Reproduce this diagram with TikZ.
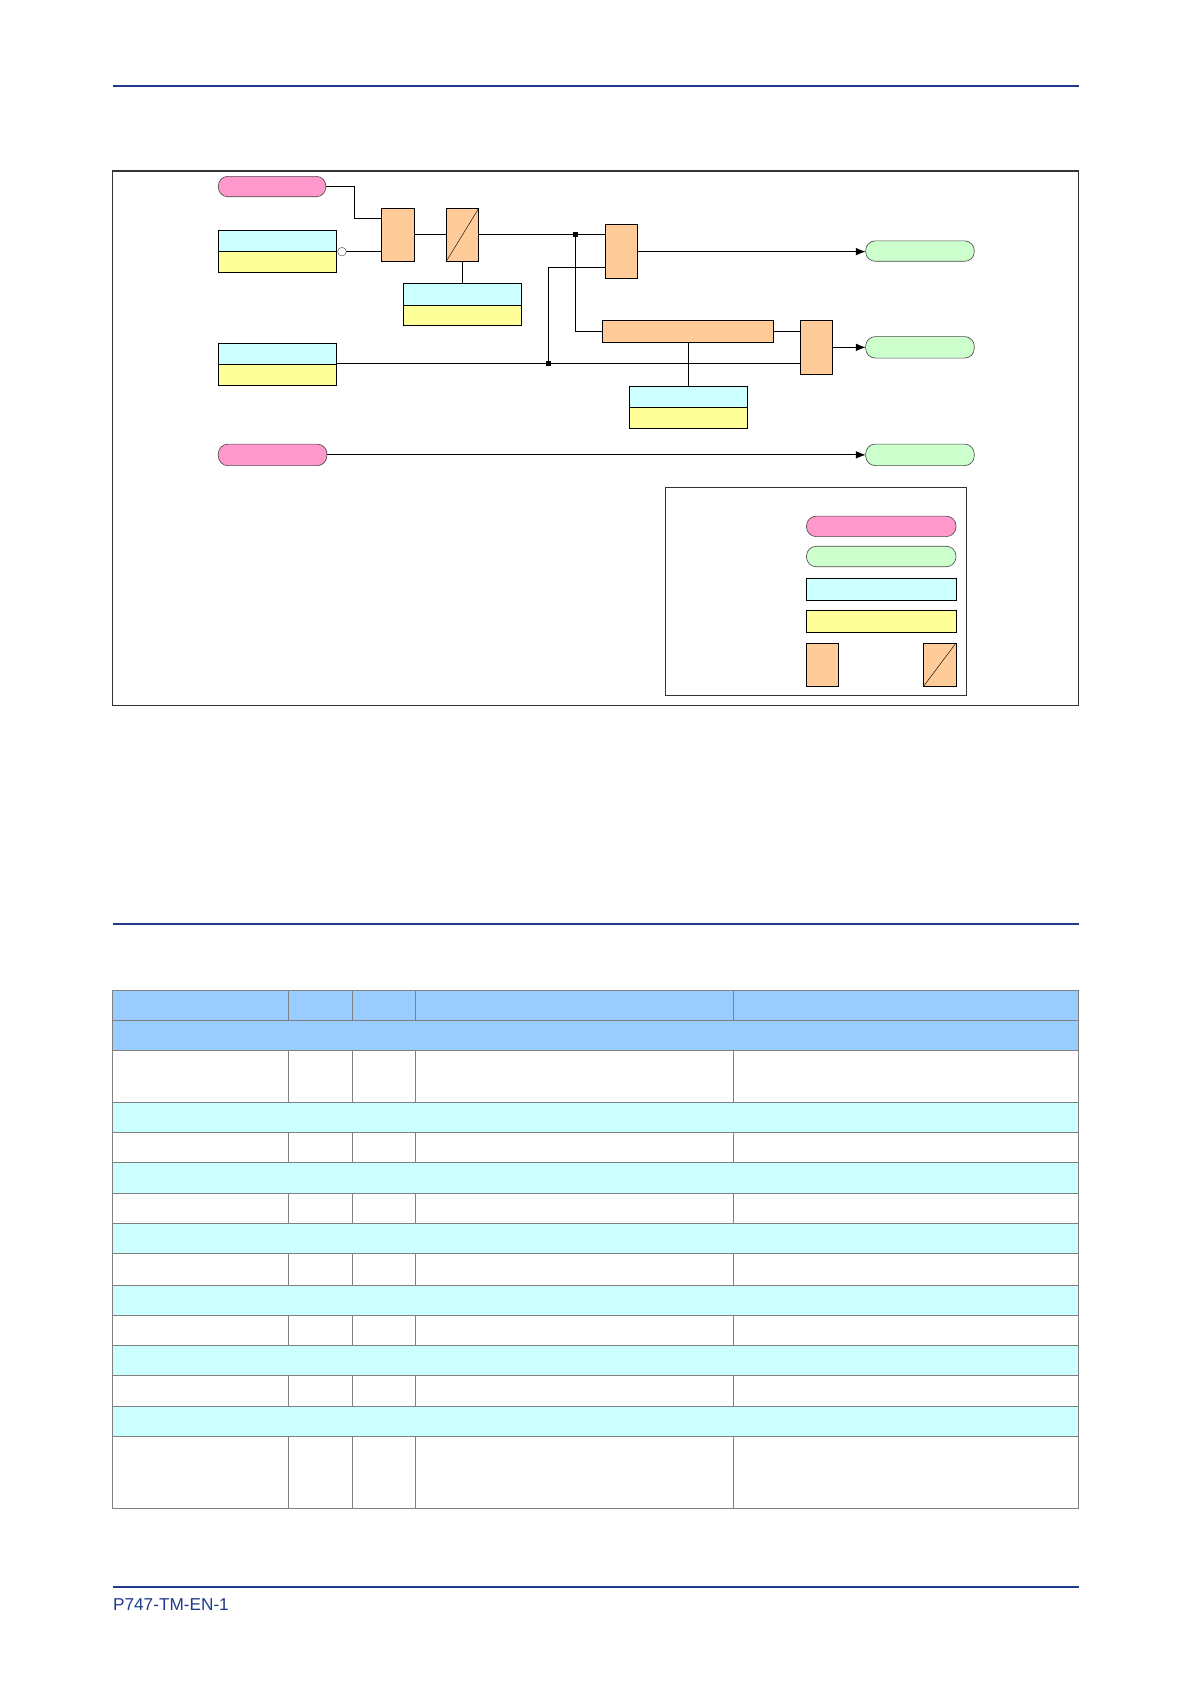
\documentclass[tikz,border=0pt]{standalone}
\usepackage{fontspec}
\setmainfont{Liberation Sans}
\usetikzlibrary{arrows.meta}
\definecolor{pinkc}{HTML}{FF99CC}
\definecolor{greenc}{HTML}{CCFFCC}
\definecolor{cyanc}{HTML}{CCFFFF}
\definecolor{yellowc}{HTML}{FFFF99}
\definecolor{orangec}{HTML}{FFCC99}
\definecolor{headc}{HTML}{99CCFF}
\definecolor{rulec}{HTML}{1F3A8A}
\definecolor{gridc}{HTML}{808080}
\begin{document}
\begin{tikzpicture}[x=1pt,y=-1pt,
  wire/.style={line width=0.8pt},
  arr/.style={wire,-{Latex[length=9pt,width=7pt]}},
  pill/.style={draw=black!70,rounded corners=9pt,line width=0.6pt},
  pillgreen/.style={pill,fill=greenc},
  pillpink/.style={pill,fill=pinkc},
  cbox/.style={draw,fill=cyanc,line width=0.8pt},
  ybox/.style={draw,fill=yellowc,line width=0.8pt},
  obox/.style={draw,fill=orangec,line width=0.8pt},
  hrule/.style={draw=rulec,line width=1.6pt},
  grid/.style={draw=gridc,line width=0.8pt}]
\useasboundingbox (0,0) rectangle (1108,1566);
\draw[hrule] (105,80) -- (1003,80);
\draw[draw=black!80,line width=1pt] (105,159) rectangle (1003,656);
% inputs
\draw[pillpink] (203,164) rectangle (303,183);
\draw[cbox] (203,214) rectangle (313,234); \draw[ybox] (203,234) rectangle (313,253);
\draw[cbox] (375,264) rectangle (485,284); \draw[ybox] (375,284) rectangle (485,303);
\draw[cbox] (203,319) rectangle (313,339); \draw[ybox] (203,339) rectangle (313,358);
\draw[cbox] (585,359) rectangle (695,379); \draw[ybox] (585,379) rectangle (695,398);
\draw[pillpink] (203,413) rectangle (304,433);
% gates
\draw[obox] (355,194) rectangle (385,243);
\draw[obox] (415,194) rectangle (445,243); \draw (415,243) -- (445,194);
\draw[obox] (563,209) rectangle (593,259);
\draw[obox] (560,298) rectangle (719,318);
\draw[obox] (744,298) rectangle (774,348);
% outputs
\draw[pillgreen] (805,224) rectangle (906,243);
\draw[pillgreen] (805,313) rectangle (906,333);
\draw[pillgreen] (805,413) rectangle (906,433);
% wires
\draw[wire] (303,173) -- (330,173) -- (330,203) -- (355,203);
\draw[black!60,fill=white,line width=0.5pt] (318,234) circle (4);
\draw[wire] (322,234) -- (355,234);
\draw[wire] (385,218) -- (415,218);
\draw[wire] (430,243) -- (430,264);
\draw[wire] (445,218) -- (563,218);
\draw[wire] (535,218) -- (535,308) -- (560,308);
\draw[wire] (563,249) -- (510,249) -- (510,338);
\draw[wire] (313,338) -- (744,338);
\draw[wire] (719,308) -- (744,308);
\draw[wire] (640,318) -- (640,359);
\fill (535,218) +(-2.5,-2.5) rectangle +(2.5,2.5);
\fill (510,338) +(-2.5,-2.5) rectangle +(2.5,2.5);
\draw[arr] (593,234) -- (805,234);
\draw[arr] (774,323) -- (805,323);
\draw[arr] (304,423) -- (805,423);
% legend
\draw[draw=black!80,line width=0.8pt] (619,453) rectangle (899,647);
\draw[pillpink] (750,480) rectangle (889,499);
\draw[pillgreen] (750,508) rectangle (889,527);
\draw[cbox] (750,538) rectangle (889,558);
\draw[ybox] (750,568) rectangle (889,588);
\draw[obox] (750,598) rectangle (780,638);
\draw[obox] (859,598) rectangle (889,638); \draw (859,638) -- (889,598);
% second rule
\draw[hrule] (105,859) -- (1003,859);
% table
\fill[headc] (105,921) rectangle (1003,977);
\foreach \a/\b in {1025/1053,1081/1110,1138/1166,1195/1223,1251/1279,1308/1336}
  \fill[cyanc] (105,\a) rectangle (1003,\b);
\foreach \yy in {921,949,977,1025,1053,1081,1110,1138,1166,1195,1223,1251,1279,1308,1336,1403}
  \draw[grid] (105,\yy) -- (1003,\yy);
\draw[grid] (105,921) -- (105,1403);
\draw[grid] (1003,921) -- (1003,1403);
\foreach \xx in {268,328,386,682}{
  \draw[grid] (\xx,921) -- (\xx,949);
  \foreach \a/\b in {977/1025,1053/1081,1110/1138,1166/1195,1223/1251,1279/1308,1336/1403}
    \draw[grid] (\xx,\a) -- (\xx,\b);
}
% footer
\draw[hrule] (105,1476) -- (1003,1476);
\node[anchor=west,inner sep=0,text=rulec,font=\fontsize{16}{19}\selectfont] (foot) at (105,1492) {P747-TM-EN-1};
\end{tikzpicture}
\end{document}
